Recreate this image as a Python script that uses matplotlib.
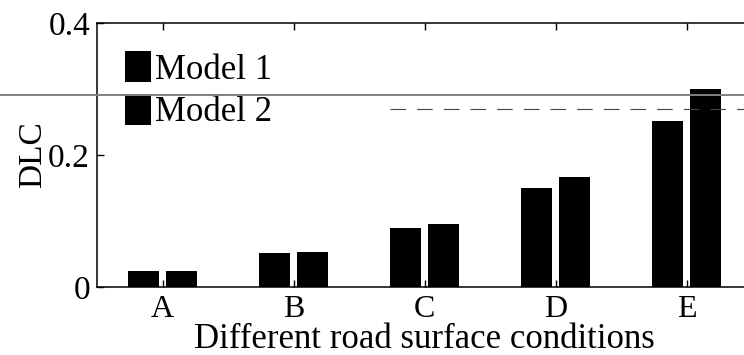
import matplotlib.pyplot as plt
from matplotlib.lines import Line2D

# road surface conditions and DLC of the two models
categories = ['A', 'B', 'C', 'D', 'E']
model1 = [0.024, 0.051, 0.090, 0.150, 0.251]
model2 = [0.025, 0.053, 0.096, 0.166, 0.300]
yticks = [0, 0.2, 0.4]
ytick_labels = ['0', '0.2', '0.4']

plt.rcParams['font.family'] = ['Liberation Serif', 'DejaVu Serif']

W, H = 744, 355
fig = plt.figure(figsize=(W / 100, H / 100), dpi=100)
ax = fig.add_axes([97 / W, (H - 287) / H, (752 - 97) / W, (287 - 23) / H])

x = list(range(1, len(categories) + 1))
width = 0.24
off = 0.145
ax.bar([i - off for i in x], model1, width, color='black', label='Model 1')
ax.bar([i + off for i in x], model2, width, color='black', label='Model 2')

ax.set_xlim(0.5, 5.5)
ax.set_ylim(0, 0.4)
ax.set_xticks(x)
ax.set_xticklabels(categories)
ax.set_yticks(yticks)
ax.set_yticklabels(ytick_labels)
ax.tick_params(direction='in', length=5, width=1, labelsize=24, top=True, pad=5)
ax.tick_params(axis='x', labelsize=23, pad=6)
for s in ax.spines.values():
    s.set_linewidth(1.1)

ax.set_xlabel('Different road surface conditions', fontsize=25, labelpad=-1)
ax.set_ylabel('DLC', fontsize=24, labelpad=0)

ax.legend(loc='upper left', bbox_to_anchor=(0.022, 0.945), frameon=False,
          fontsize=25, handlelength=0.75, handleheight=1.0,
          handletextpad=0.1, labelspacing=0.2, borderaxespad=0)

# scan artefacts: grey rule across the page and a faint dashed line
fig.add_artist(Line2D([0, 1], [1 - 95 / H, 1 - 95 / H], transform=fig.transFigure,
                      color='#808080', lw=1.4))
fig.add_artist(Line2D([390 / W, 1], [1 - 109 / H, 1 - 109 / H], transform=fig.transFigure,
                      color='#444444', lw=0.8, dashes=(14, 10)))

fig.savefig('out.png', dpi=100)
